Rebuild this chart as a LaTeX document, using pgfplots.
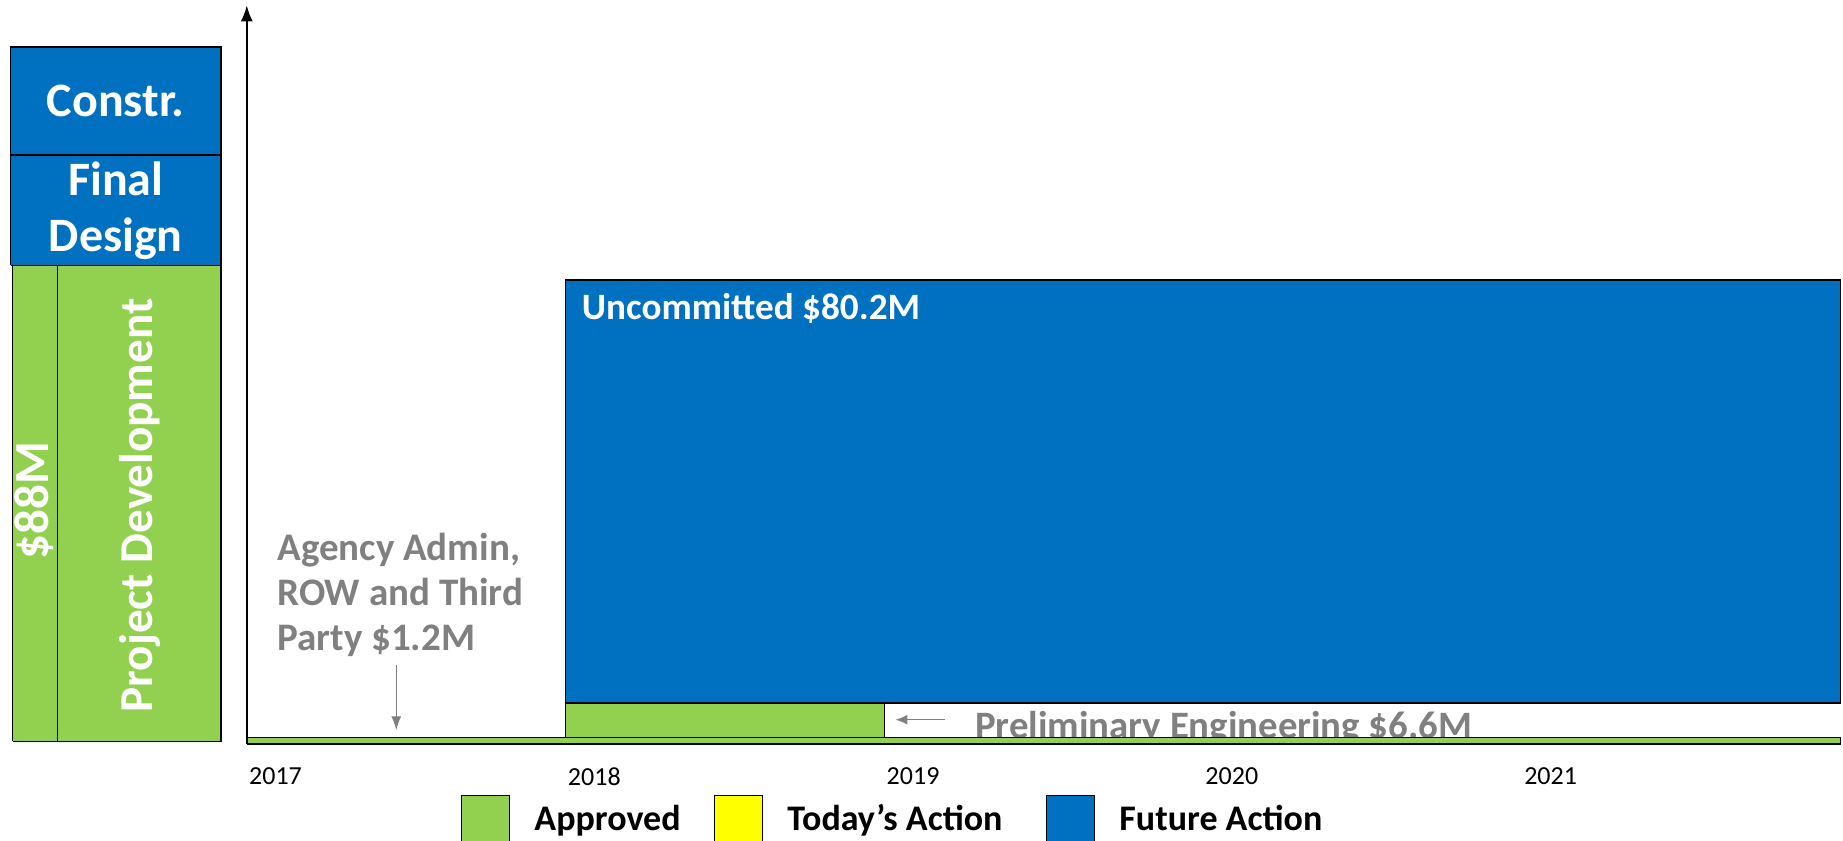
\documentclass[border=0pt]{standalone}
\usepackage{fontspec}
\setmainfont{Carlito}
\usepackage{pgfplots}
\pgfplotsset{compat=1.18}
\usetikzlibrary{arrows.meta}
\definecolor{cgreen}{HTML}{92D050}
\definecolor{cblue}{HTML}{0070C0}
\definecolor{cyellow}{HTML}{FFFF00}
\definecolor{cgray}{HTML}{808080}
\begin{document}
\begin{tikzpicture}
\begin{axis}[
  at={(123.4pt,48.5pt)}, anchor=south west,
  scale only axis, width=796.9pt, height=369.3pt,
  xmin=2017, xmax=2022, ymin=0, ymax=140,
  clip=false,
  axis lines=left,
  x axis line style={draw=none},
  y axis line style={-{Latex[length=8pt,width=6pt]}, line width=0.8pt},
  xtick={2017,2018,2019,2020,2021},
  xticklabels={2017,2018,2019,2020,2021},
  x tick label style={anchor=north west, font=\fontsize{13}{15}\selectfont, inner sep=0pt, yshift=-11.5pt, xshift=1pt},
  /pgf/number format/assume math mode=true,
  major tick length=0pt,
  ytick=\empty,
  legend columns=3,
  legend cell align=left,
  legend style={at={(0.1343,-0.0685)}, anchor=north west, draw=none, fill=none,
    inner sep=0pt, outer sep=0pt, nodes={inner sep=0pt},
    font=\bfseries\fontsize{18}{22}\selectfont,
    /tikz/every odd column/.style={column sep=12pt},
    /tikz/every even column/.style={column sep=0pt}},
  legend image code/.code={\draw[#1, draw=black, line width=0.8pt] (0pt,-12pt) rectangle (24pt,12pt);},
]
% main bars
\addplot[forget plot, fill=cblue, draw=black, line width=0.8pt] coordinates {(2018,7.8) (2022,7.8) (2022,88) (2018,88) (2018,7.8)};
\addplot[forget plot, fill=cgreen, draw=black, line width=0.8pt] coordinates {(2018,1.2) (2019,1.2) (2019,7.8) (2018,7.8) (2018,1.2)};
\node[anchor=west, text=white, font=\bfseries\fontsize{18.6}{22}\selectfont, inner sep=0pt] at (axis cs:2018.05,82.6) {Uncommitted \$80.2M};
\node[anchor=north west, align=left, text=cgray, font=\bfseries\fontsize{19.5}{22.4}\selectfont, inner sep=0pt] at (axis cs:2017.095,40.0) {Agency Admin,\\ROW and Third\\Party \$1.2M};
\draw[cgray, line width=0.7pt, -{Latex[length=7pt,width=5pt]}] (axis cs:2017.469,14.9) -- (axis cs:2017.469,2.6);
\draw[cgray, line width=0.7pt, -{Latex[length=6pt,width=5pt]}] (axis cs:2019.19,4.6) -- (axis cs:2019.035,4.6);
\node[anchor=base west, text=cgray, font=\bfseries\fontsize{19.4}{22}\selectfont, inner sep=0pt] at (axis cs:2019.284,1.1) {Preliminary Engineering \$6.6M};
\addplot[forget plot, fill=cgreen, draw=black, line width=0.8pt] coordinates {(2017,0) (2022,0) (2022,1.2) (2017,1.2) (2017,0)};
% left panel
\addplot[forget plot, fill=cblue, draw=black, line width=0.8pt] coordinates {(2016.259,111.6) (2016.919,111.6) (2016.919,132.1) (2016.259,132.1) (2016.259,111.6)};
\addplot[forget plot, fill=cblue, draw=black, line width=0.8pt] coordinates {(2016.259,90.7) (2016.919,90.7) (2016.919,111.6) (2016.259,111.6) (2016.259,90.7)};
\addplot[forget plot, fill=cgreen, draw=black, line width=0.8pt] coordinates {(2016.265,0.5) (2016.919,0.5) (2016.919,90.7) (2016.265,90.7) (2016.265,0.5)};
\addplot[forget plot, draw=black, line width=0.8pt] coordinates {(2016.406,0.5) (2016.406,90.7)};
\node[text=white, font=\bfseries\fontsize{24}{28}\selectfont] at (axis cs:2016.589,121.9) {Constr.};
\node[text=white, align=center, font=\bfseries\fontsize{24}{28.2}\selectfont] at (axis cs:2016.589,101.1) {Final\\Design};
\node[rotate=90, text=white, font=\bfseries\fontsize{23.6}{28}\selectfont] at (axis cs:2016.665,45.2) {Project Development};
\node[rotate=90, text=white, font=\bfseries\fontsize{24.5}{28}\selectfont] at (axis cs:2016.333,46.1) {\$88M};
% legend
\addlegendimage{fill=cgreen}
\addlegendentry{\makebox[89.7pt][l]{Approved}}
\addlegendimage{fill=cyellow}
\addlegendentry{\makebox[129.2pt][l]{Today’s Action}}
\addlegendimage{fill=cblue}
\addlegendentry{Future Action}
\end{axis}
\pgfresetboundingbox
\useasboundingbox (0pt,0pt) rectangle (921.5pt,420.5pt);
\end{tikzpicture}
\end{document}
